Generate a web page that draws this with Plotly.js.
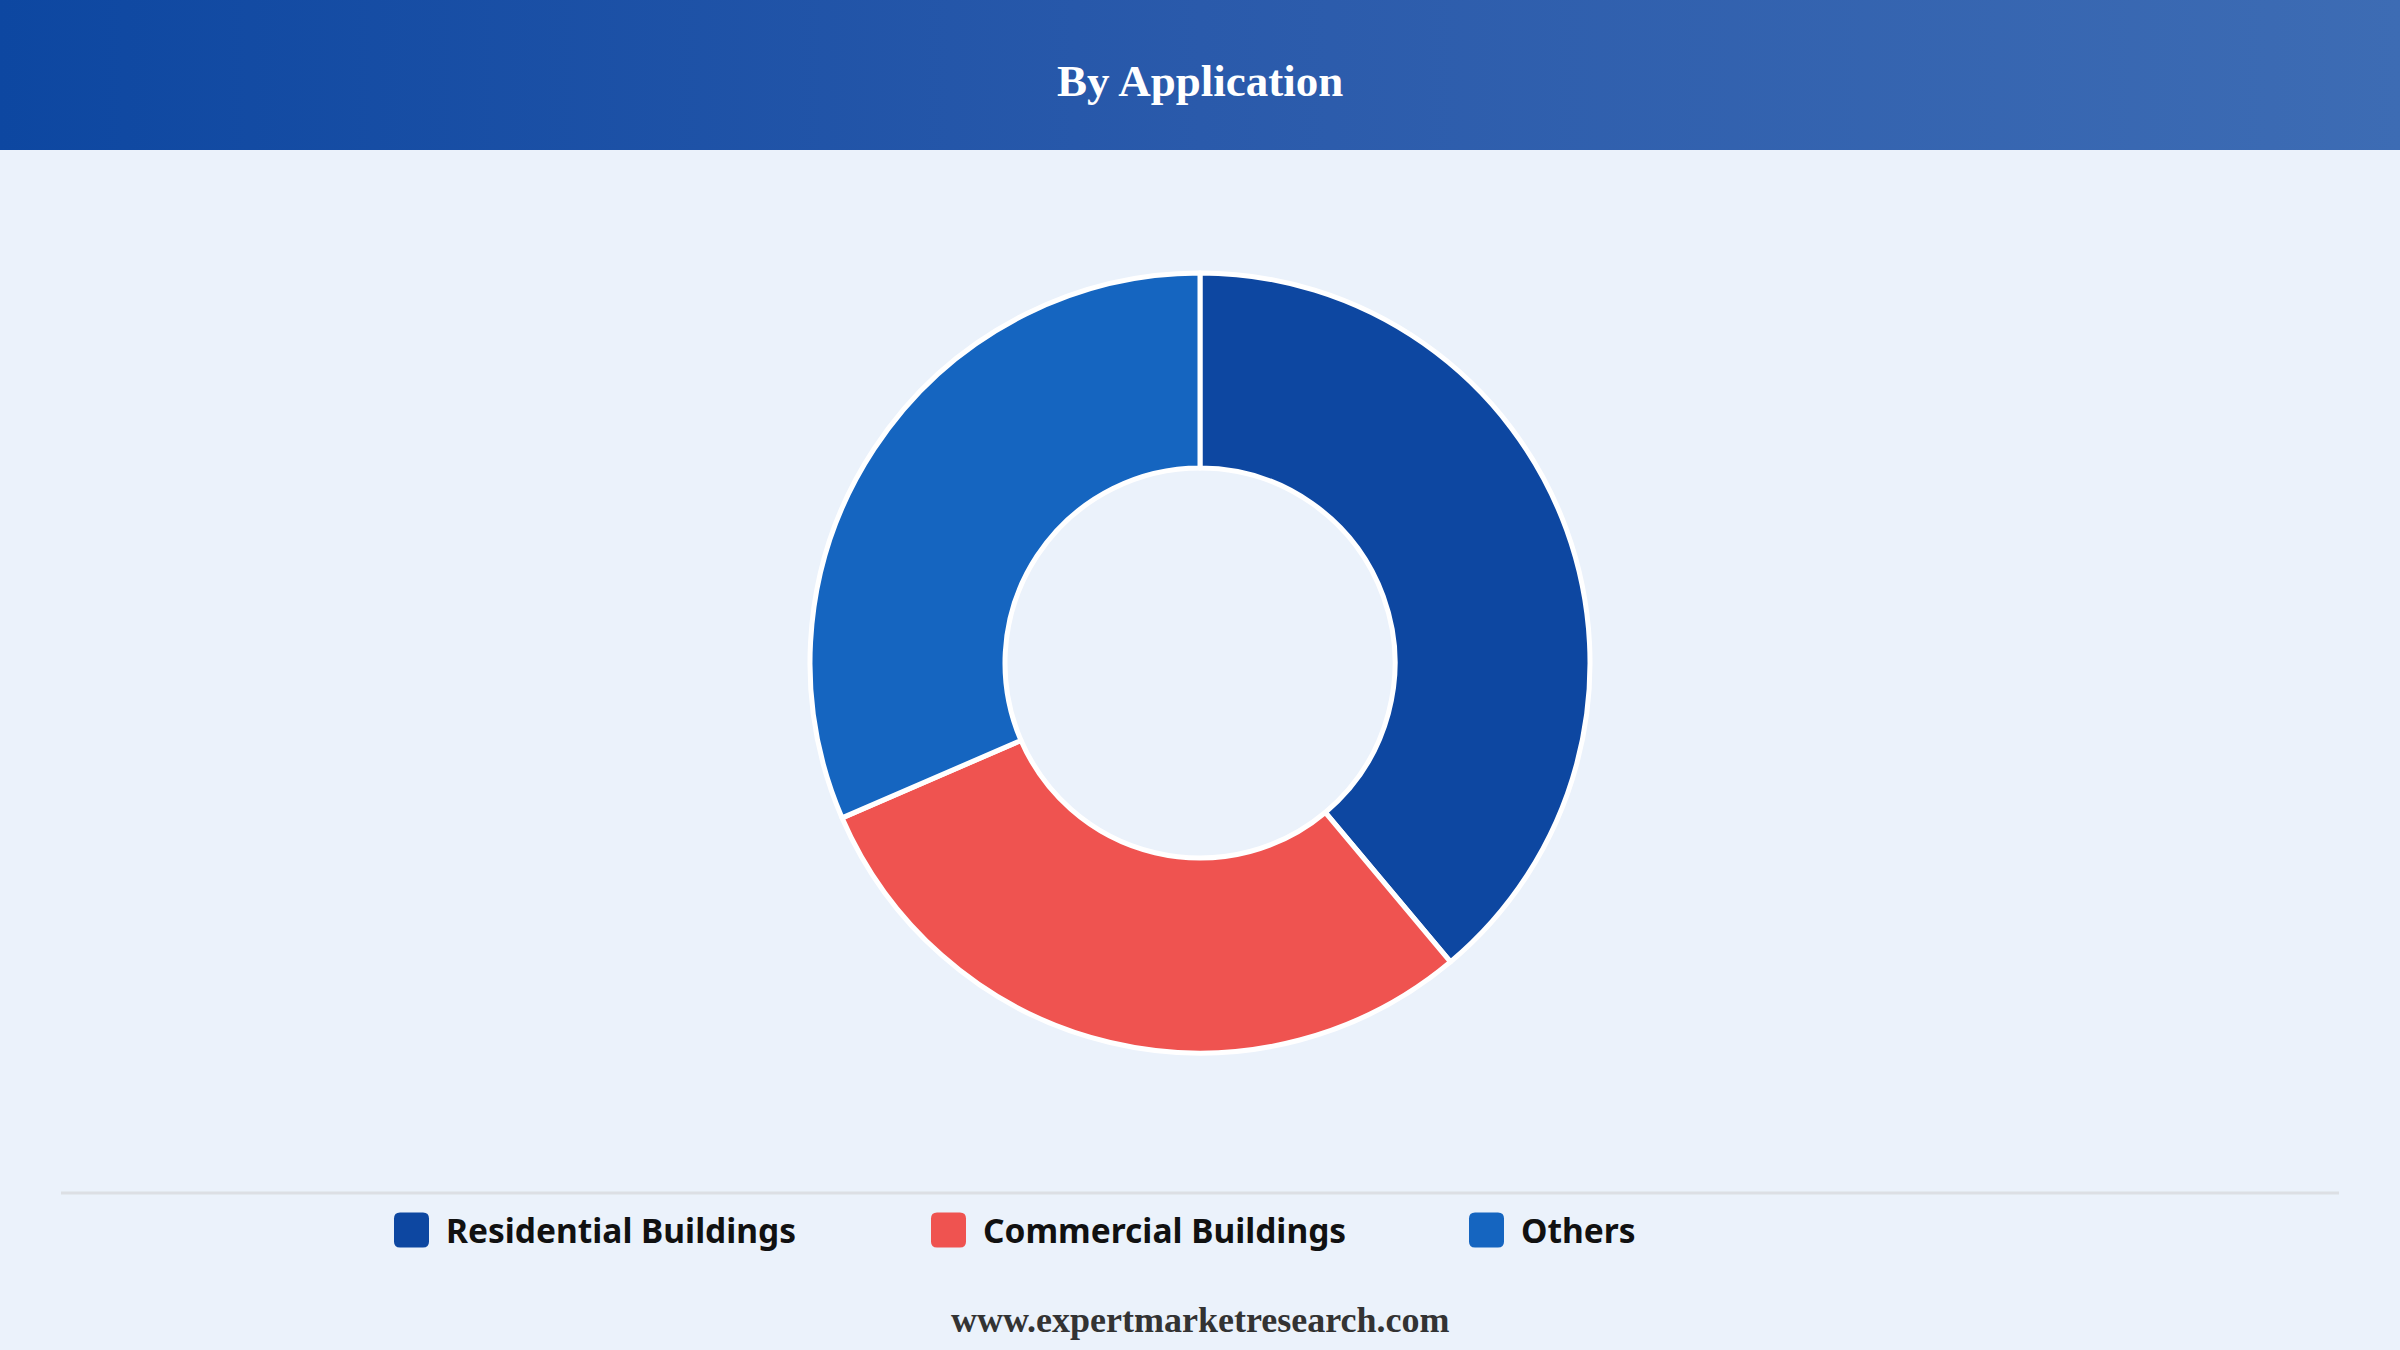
<!DOCTYPE html>
<html>
<head>
<meta charset="utf-8">
<script src="https://cdn.plot.ly/plotly-3.0.1.min.js"></script>
<style>
  html, body { margin: 0; padding: 0; background: #ebf2fb; }
  #page { position: relative; width: 2400px; height: 1350px; overflow: hidden; }
  #header { position: absolute; left: 0; top: 0; width: 2400px; height: 150px;
            background: linear-gradient(90deg, #0d47a1 0%, #2a5aab 50%, #3d6cb4 100%); }
  #plot { position: absolute; left: 0; top: 0; width: 2400px; height: 1350px; }
</style>
</head>
<body>
<div id="page">
  <div id="header"></div>
  <div id="plot"></div>
</div>
<script>
// chart data
const categories = ['Residential Buildings', 'Commercial Buildings', 'Others'];
const shares = [38.9, 29.6, 31.5];
const colors = ['#0d47a1', '#ef5350', '#1565c0'];

const W = 2400, H = 1350;
// legend item left edges (px)
const legendX = [394, 931, 1469];
const legendY = 1230;

document.addEventListener("DOMContentLoaded", function() {
    let traces = [{
        type: 'pie',
        labels: categories,
        values: shares,
        hole: 0.5,
        sort: false,
        direction: 'clockwise',
        rotation: 0,
        textinfo: 'none',
        hoverinfo: 'label+percent',
        showlegend: false,
        marker: { colors: colors, line: { color: '#ffffff', width: 5 } },
        domain: { x: [810 / W, 1590 / W], y: [1 - 1053 / H, 1 - 273 / H] }
    }];

    let shapes = [{
        type: 'line', xref: 'paper', yref: 'paper',
        x0: 61 / W, x1: 2339 / W, y0: 1 - 1193 / H, y1: 1 - 1193 / H,
        line: { color: '#dcdfe4', width: 3 }
    }];
    let annotations = [{
        text: '<b>By Application</b>', xref: 'paper', yref: 'paper',
        x: 0.5, y: 1 - 81 / H, xanchor: 'center', yanchor: 'middle', showarrow: false,
        font: { family: 'Liberation Serif, Times New Roman, serif', size: 45, color: '#ffffff' }
    }, {
        text: '<b>www.expertmarketresearch.com</b>', xref: 'paper', yref: 'paper',
        x: 0.5, y: 1 - 1320 / H, xanchor: 'center', yanchor: 'middle', showarrow: false,
        font: { family: 'Liberation Serif, Times New Roman, serif', size: 36, color: '#333333' }
    }];

    // rounded square legend keys + labels
    const s = 17.5, r = 6;
    const keyPath = `M${-s + r},${-s} L${s - r},${-s} Q${s},${-s} ${s},${-s + r} L${s},${s - r} Q${s},${s} ${s - r},${s} ` +
        `L${-s + r},${s} Q${-s},${s} ${-s},${s - r} L${-s},${-s + r} Q${-s},${-s} ${-s + r},${-s} Z`;
    categories.forEach((cat, i) => {
        shapes.push({
            type: 'path', xref: 'paper', yref: 'paper',
            xsizemode: 'pixel', ysizemode: 'pixel',
            xanchor: (legendX[i] + s) / W, yanchor: 1 - legendY / H,
            path: keyPath, fillcolor: colors[i], line: { width: 0 }
        });
        annotations.push({
            text: '<b>' + cat + '</b>', xref: 'paper', yref: 'paper',
            x: (legendX[i] + 50) / W, y: 1 - legendY / H,
            xanchor: 'left', yanchor: 'middle', showarrow: false,
            font: { family: 'Noto Sans, Open Sans, sans-serif', size: 33.5, color: '#111111' }
        });
    });

    const layout = {
        width: W,
        height: H,
        margin: { l: 0, r: 0, t: 0, b: 0 },
        paper_bgcolor: 'rgba(0,0,0,0)',
        plot_bgcolor: 'rgba(0,0,0,0)',
        showlegend: false,
        shapes: shapes,
        annotations: annotations
    };

    Plotly.newPlot('plot', traces, layout, { staticPlot: true, displayModeBar: false });
});
</script>
</body>
</html>
